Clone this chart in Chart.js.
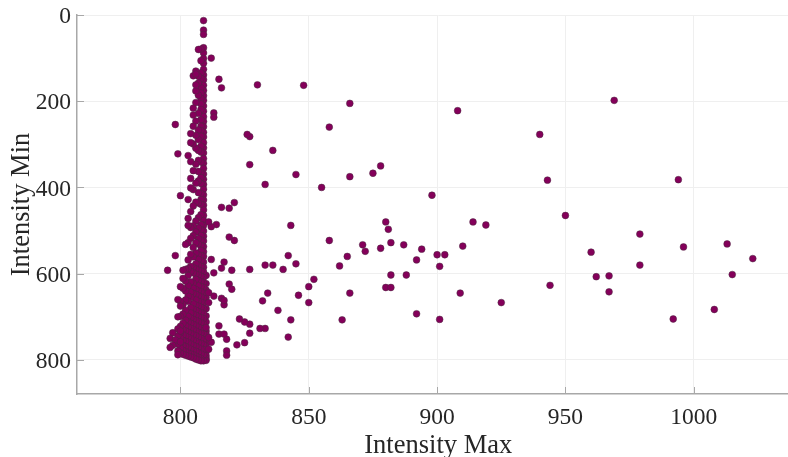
<!DOCTYPE html>
<html>
<head>
<meta charset="utf-8">
<style>
  html, body { margin: 0; padding: 0; background: #fff; overflow: hidden; }
  #wrap { width: 788px; height: 457px; overflow: hidden; }
</style>
<script src="https://cdn.jsdelivr.net/npm/chart.js@4/dist/chart.umd.min.js"></script>
</head>
<body>
<div id="wrap"><canvas id="myChart" width="804" height="457"></canvas></div>
<script>
const xTicks = [800, 850, 900, 950, 1000];
const yTicks = [0, 200, 400, 600, 800];

// scattered points
const looseMax = [830, 848, 866, 858, 908, 969, 940, 994, 943, 950, 898, 878, 875, 866, 855, 845, 836, 827, 826, 827, 833,
  843, 858, 880, 881, 882, 878, 871, 872, 865, 862, 845, 842, 840, 836, 833, 827, 821, 819, 821, 819, 816,
  914, 919, 900, 903, 901, 910, 894, 892, 887, 888, 882, 880, 882, 866, 852, 850, 846, 850, 863, 843, 838, 834, 832, 833, 831, 842,
  827, 825, 823, 827, 825, 822, 818, 818, 818, 892, 901, 909, 925, 944, 960, 962, 967, 967, 979, 979, 996, 1013, 1015, 1023, 992, 1008,
  812, 815, 816, 805, 806, 806, 805, 805, 813, 813, 798, 804, 799, 803, 804, 800, 803,
  803, 814, 812, 811, 798, 812, 817, 816, 795, 813, 820, 819, 820, 800, 799, 816, 817, 817, 813, 811, 811, 800, 799,
  815, 815, 817, 812, 811, 810, 797, 796, 798, 797, 796, 799, 800, 800, 811];
const looseMin = [162, 163, 205, 260, 222, 198, 277, 382, 383, 465, 418, 350, 367, 375, 400, 370, 314, 282, 277, 347, 393,
  488, 523, 480, 497, 528, 541, 533, 548, 560, 582, 577, 558, 590, 580, 580, 590, 523, 515, 435, 448, 446,
  480, 487, 556, 556, 583, 536, 543, 568, 533, 603, 603, 632, 632, 645, 613, 630, 650, 667, 707, 707, 685, 645, 663, 727, 727, 747,
  717, 712, 705, 738, 760, 765, 752, 779, 789, 693, 706, 645, 667, 627, 550, 607, 605, 642, 508, 580, 538, 531, 602, 565, 705, 683,
  100, 149, 169, 141, 137, 162, 216, 232, 227, 237, 254, 275, 322, 326, 379, 419, 428,
  472, 486, 491, 480, 558, 567, 573, 587, 592, 598, 592, 624, 636, 630, 660, 657, 672, 662, 652, 644, 667, 675, 700,
  721, 740, 740, 759, 748, 725, 737, 750, 754, 766, 771, 788, 733, 758, 775];

// dense band near 800-810, intensity max is whole numbers so it stacks in columns
const columnMax = [810, 809, 808, 807, 806, 805, 804, 803, 802, 801, 800, 799];
const mins810 = [604, 623, 638, 655, 681, 698, 712, 733, 741, 756, 768, 781, 790, 797, 801];
const mins809 = [13, 35, 45, 76, 88, 101, 112, 126, 139, 150, 163, 175, 187, 198, 211, 223, 236, 247, 259, 272, 283, 296, 308, 320, 333, 344, 356, 369, 381, 393, 404, 417, 429, 441, 452, 465, 477, 488, 501, 513, 524, 537, 549, 560, 573, 585, 596, 609, 621, 632, 645, 657, 668, 681, 693, 704, 717, 729, 740, 753, 765, 776, 789, 802];
const mins808 = [79, 106, 134, 147, 169, 181, 194, 206, 219, 243, 258, 268, 281, 304, 318, 341, 366, 377, 391, 414, 428, 439, 463, 486, 498, 511, 522, 535, 546, 558, 570, 583, 594, 606, 619, 630, 642, 654, 666, 678, 691, 702, 714, 727, 738, 750, 762, 775, 786, 797, 802];
const mins807 = [80, 142, 158, 186, 228, 267, 289, 314, 337, 363, 385, 412, 436, 470, 494, 519, 531, 556, 567, 580, 592, 603, 616, 628, 640, 651, 664, 675, 688, 700, 711, 724, 736, 747, 760, 772, 783, 794, 800];
const mins806 = [130, 176, 203, 246, 279, 309, 346, 390, 434, 478, 503, 528, 552, 577, 589, 601, 613, 637, 648, 661, 673, 685, 697, 709, 721, 733, 744, 757, 769, 780, 791, 798];
const mins805 = [258, 299, 361, 405, 443, 489, 512, 539, 561, 586, 598, 622, 634, 646, 670, 682, 694, 706, 718, 730, 742, 754, 766, 778, 788, 795];
const mins804 = [296, 340, 401, 456, 493, 518, 555, 583, 595, 619, 643, 655, 679, 691, 703, 715, 727, 739, 751, 763, 775, 786, 793];
const mins803 = [488, 528, 568, 588, 604, 628, 652, 664, 699, 712, 724, 736, 748, 760, 772, 784, 791];
const mins802 = [532, 590, 617, 640, 661, 685, 708, 721, 733, 745, 757, 769, 781, 789];
const mins801 = [592, 611, 634, 672, 694, 715, 730, 742, 755, 767, 778, 787];
const mins800 = [664, 699, 722, 737, 749, 761, 772, 784];
const mins799 = [728, 744, 763, 779];

const minsByColumn = [mins810, mins809, mins808, mins807, mins806, mins805, mins804, mins803, mins802, mins801, mins800, mins799];

const points = [];
minsByColumn.forEach((mins, i) => {
  mins.forEach((m) => points.push({ x: columnMax[i], y: m }));
});
looseMax.forEach((m, i) => points.push({ x: m, y: looseMin[i] }));

const textColor = '#262626';
const axisColor = '#a8a8a8';
const gridColor = '#efefef';
const serif = '"Liberation Serif", serif';

// matlab style ticks pointing into the plot
const inwardTicks = {
  id: 'inwardTicks',
  afterDatasetsDraw(chart) {
    const { ctx, chartArea, scales } = chart;
    ctx.save();
    ctx.strokeStyle = axisColor;
    ctx.lineWidth = 1;
    scales.x.ticks.forEach((t) => {
      const px = Math.round(scales.x.getPixelForValue(t.value)) + 0.5;
      ctx.beginPath();
      ctx.moveTo(px, chartArea.bottom);
      ctx.lineTo(px, chartArea.bottom - 7);
      ctx.stroke();
    });
    scales.y.ticks.forEach((t) => {
      const py = Math.round(scales.y.getPixelForValue(t.value)) + 0.5;
      ctx.beginPath();
      ctx.moveTo(chartArea.left, py);
      ctx.lineTo(chartArea.left + 7, py);
      ctx.stroke();
    });
    ctx.restore();
  },
};

new Chart(document.getElementById('myChart'), {
  type: 'scatter',
  data: {
    datasets: [{
      label: 'Intensity',
      data: points,
      backgroundColor: '#84005a',
      borderColor: '#4a2a40',
      borderWidth: 0.5,
      pointRadius: 3.4,
    }],
  },
  options: {
    responsive: false,
    animation: false,
    layout: { padding: { top: 15, right: 1, bottom: 0, left: 0 } },
    plugins: { legend: { display: false }, tooltip: { enabled: false } },
    scales: {
      x: {
        type: 'linear',
        min: 759.7,
        max: 1041.2,
        afterBuildTicks: (s) => { s.ticks = xTicks.map((v) => ({ value: v })); },
        afterFit: (s) => { s.height = 63; s.paddingLeft = 0; s.paddingRight = 0; },
        grid: { color: gridColor, lineWidth: 1, drawTicks: false },
        border: { color: axisColor, width: 1.5 },
        ticks: { maxRotation: 0, padding: 10, color: textColor, font: { family: serif, size: 23.5 }, callback: (v) => String(v) },
        title: { display: true, text: 'Intensity Max', color: textColor, padding: { top: 4, bottom: -5 }, font: { family: serif, size: 26.5 } },
      },
      y: {
        type: 'linear',
        reverse: true,
        min: 0,
        max: 879,
        afterBuildTicks: (s) => { s.ticks = yTicks.map((v) => ({ value: v })); },
        afterFit: (s) => { s.width = 77; s.paddingTop = 0; s.paddingBottom = 0; },
        grid: { color: gridColor, lineWidth: 1, drawTicks: false },
        border: { color: axisColor, width: 1.5 },
        ticks: { padding: 6, labelOffset: 2, color: textColor, font: { family: serif, size: 23.5 } },
        title: { display: true, text: 'Intensity Min', color: textColor, padding: { top: 6, bottom: 0 }, font: { family: serif, size: 26.5 } },
      },
    },
  },
  plugins: [inwardTicks],
});
</script>
</body>
</html>
